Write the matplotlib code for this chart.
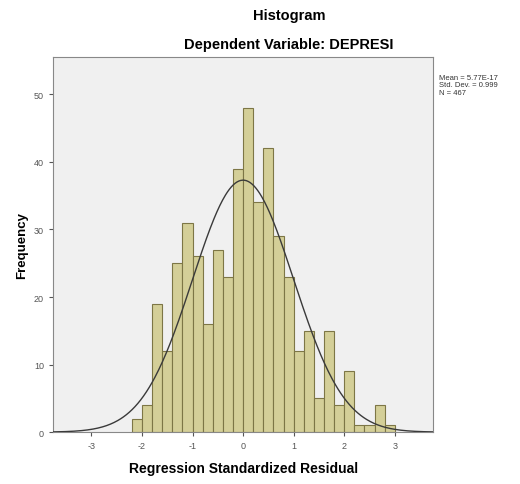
import numpy as np
import matplotlib
matplotlib.use("Agg")
import matplotlib.pyplot as plt

plt.rcParams['font.family'] = ['Liberation Sans', 'DejaVu Sans']
plt.rcParams['axes.unicode_minus'] = False

# bin edges of the histogram (width 0.2)
bin_left = [-2.2, -2.0, -1.8, -1.6, -1.4, -1.2, -1.0, -0.8, -0.6, -0.4, -0.2,
            0.0, 0.2, 0.4, 0.6, 0.8, 1.0, 1.2, 1.4, 1.6, 1.8, 2.0, 2.2, 2.4, 2.6, 2.8]
counts = [2, 4, 19, 12, 25, 31, 26, 16, 27, 23, 39,
          48, 34, 42, 29, 23, 12, 15, 5, 15, 4, 9, 1, 1, 4, 1]
bin_width = 0.2

mean = 5.77e-17
std = 0.999
n = 467

fig = plt.figure(figsize=(5.2, 4.85), dpi=100)
ax = fig.add_axes([0.102, 0.107, 0.731, 0.773])
ax.set_facecolor('#f0f0f0')

ax.bar(bin_left, counts, width=bin_width, align='edge',
       color='#d4cf98', edgecolor='#7d7646', linewidth=0.8, zorder=2)

# normal curve
xs = np.linspace(-3.76, 3.76, 400)
ys = n * bin_width * np.exp(-0.5 * ((xs - mean) / std) ** 2) / (std * np.sqrt(2 * np.pi))
ax.plot(xs, ys, color='#3a3a3a', linewidth=1.0, zorder=3)

ax.set_xlim(-3.76, 3.76)
ax.set_ylim(0, 55.5)
ax.set_xticks([-3, -2, -1, 0, 1, 2, 3])
ax.set_yticks([0, 10, 20, 30, 40, 50])
ax.tick_params(labelsize=6.5, colors='#555555', length=3, width=0.8)
for s in ax.spines.values():
    s.set_color('#888888')
    s.set_linewidth(0.8)

ax.set_xlabel('Regression Standardized Residual', fontsize=10, fontweight='bold', labelpad=8)
ax.set_ylabel('Frequency', fontsize=9.5, fontweight='bold', labelpad=4)

fig.text(0.556, 0.968, 'Histogram', ha='center', va='center', fontsize=10.5, fontweight='bold')
fig.text(0.556, 0.907, 'Dependent Variable: DEPRESI', ha='center', va='center',
         fontsize=10.5, fontweight='bold')

fig.text(0.845, 0.845, 'Mean = 5.77E-17\nStd. Dev. = 0.999\nN = 467',
         ha='left', va='top', fontsize=5.5, linespacing=1.05, color='#333333')

fig.savefig('out.png', dpi=100, facecolor='white')
